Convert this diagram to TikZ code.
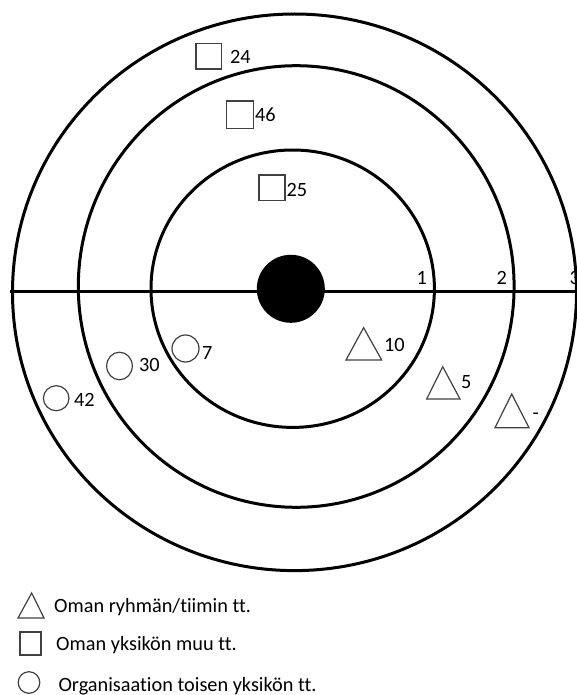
\documentclass[tikz,border=0pt]{standalone}
\usepackage{fontspec}
\setmainfont{Carlito}[Ligatures=NoCommon]
\begin{document}
\begin{tikzpicture}[x=1pt,y=-1pt,
  ring/.style={line width=3pt, draw=black},
  sym/.style={draw=black!75, line width=1.2pt},
  lbl/.style={inner sep=0pt, anchor=base west, font=\fontsize{20.3}{24}\selectfont, text=black}]
\useasboundingbox (0,0) rectangle (577,695);
% rings
\draw[ring] (292.7,288.7) ellipse [x radius=141.7pt, y radius=138.7pt];
\draw[ring] (296.2,286.5) ellipse [x radius=217.9pt, y radius=220.8pt];
\draw[ring] (294.5,292.3) ellipse [x radius=282pt, y radius=278.3pt];
% axis line
\coordinate (axL) at (9.5,291.7);
\coordinate (axR) at (577,291.7);
\draw[line width=3pt] (axL) -- (axR);
% bullseye
\fill (290.8,288.8) circle [radius=34pt];
% ring numbers
\node[lbl] (n1) at (416.5,284.5) {1};
\node[lbl] (n2) at (496.5,284.5) {2};
\node[lbl] (n3) at (569.5,284.5) {3};
% squares
\draw[sym] (196,43.3) rectangle (221.3,69);
\node[lbl] (l24) at (230,63.5) {24};
\draw[sym] (226.7,101) rectangle (253.3,128.3);
\node[lbl] (l46) at (255,121.2) {46};
\draw[sym] (259,175) rectangle (285,200.7);
\node[lbl] (l25) at (286.5,196.9) {25};
% circles
\draw[sym] (56.2,398.2) ellipse [x radius=12.8pt, y radius=12.5pt];
\node[lbl] (l42) at (74,406.2) {42};
\draw[sym] (119.5,366) ellipse [x radius=12.8pt, y radius=13.8pt];
\node[lbl] (l30) at (139,371.9) {30};
\draw[sym] (185.5,348.5) ellipse [x radius=13.5pt, y radius=13.5pt];
\node[lbl] (l7) at (202,359.2) {7};
% triangles
\draw[sym] (346,360) -- (363.6,327.7) -- (381.7,360) -- cycle;
\node[lbl] (l10) at (384,351.7) {10};
\draw[sym] (426.7,399) -- (442.7,366.7) -- (460,399) -- cycle;
\node[lbl] (l5) at (461,388.5) {5};
\draw[sym] (495,427.7) -- (511.7,394) -- (529,427.7) -- cycle;
\node[lbl] (lm) at (532.5,419.6) {-};
% legend
\draw[sym] (18,618) -- (31.7,593) -- (44,618) -- cycle;
\node[lbl] (leg1) at (54,612.5) {Oman ryhmän/tiimin tt.};
\draw[sym] (20,632) rectangle (41,655);
\node[lbl] (leg2) at (56,650.5) {Oman yksikön muu tt.};
\draw[sym] (29,682.5) circle [radius=10.8pt];
\node[lbl] (leg3) at (58.3,691) {Organisaation toisen yksikön tt.};
\end{tikzpicture}
\end{document}
